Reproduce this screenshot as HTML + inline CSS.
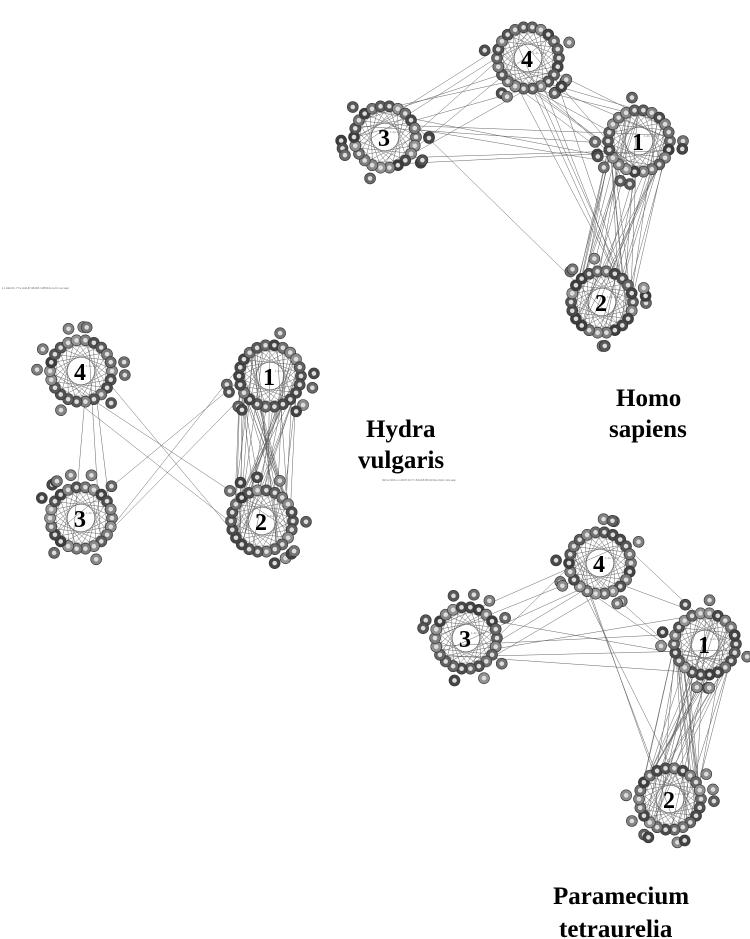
<!DOCTYPE html>
<html><head><meta charset="utf-8"><style>
body{margin:0;background:#fff;width:750px;height:939px;overflow:hidden}
svg{position:absolute;left:0;top:0}
.t{font-family:"Liberation Serif",serif;font-weight:bold;font-size:25px;fill:#000}
.n{font-family:"Liberation Serif",serif;font-weight:bold;font-size:24px;fill:#000}
.s{font-family:"Liberation Sans",sans-serif;font-size:3px;fill:#777}
</style></head><body>
<svg id="g" width="750" height="939" viewBox="0 0 750 939">
<g id="edges" stroke="#666" stroke-width="0.5" fill="none"></g>
<g id="nodes"></g>
<g id="labs"></g>
<text class="t" x="366" y="437">Hydra</text>
<text class="t" x="358" y="468">vulgaris</text>
<text class="t" x="616" y="406">Homo</text>
<text class="t" x="609" y="437">sapiens</text>
<text class="t" x="553" y="904">Paramecium</text>
<text class="t" x="559" y="937">tetraurelia</text>
<text class="s" x="2" y="289">k.l.EEAFx.77a.HsfHP.46d96.1086FAma.b1.sw.aap</text>
<text class="s" x="382" y="481">hkFa.NiDLx.ml4bP.4C77.A6dA8.BFHD3a.OHH.12a.aap</text>
</svg>
<script>
var seed=7;function r(){seed=(seed*9301+49297)%233280;return seed/233280;}
var C=[[385,137,"3"],[528,58,"4"],[639,141,"1"],[602,302,"2"],
[81,371,"4"],[270,376,"1"],[81,518,"3"],[262,521,"2"],
[600,563,"4"],[466,638,"3"],[705,644,"1"],[670,799,"2"]];
var E=[[0,1,8],[0,2,6],[1,2,10],[2,3,30],[1,3,5],[0,3,1],
[4,7,3],[4,6,3],[5,6,3],[5,7,40],
[8,9,6],[9,10,5],[8,10,4],[10,11,35],[8,11,3]];
var NS="http://www.w3.org/2000/svg";
function el(n,a,p){var e=document.createElementNS(NS,n);for(var k in a)e.setAttribute(k,a[k]);document.getElementById(p).appendChild(e);return e;}
E.forEach(function(e){var a=C[e[0]],b=C[e[1]];for(var i=0;i<e[2];i++){var t1=r()*6.28,t2=r()*6.28;
el("line",{x1:a[0]+30*Math.cos(t1),y1:a[1]+30*Math.sin(t1),x2:b[0]+30*Math.cos(t2),y2:b[1]+30*Math.sin(t2)},"edges");}});
C.forEach(function(c){
 el("circle",{cx:c[0],cy:c[1],r:25,stroke:"#999","stroke-width":"0.6",fill:"none"},"edges");
 for(var i=0;i<22;i++){var t=i/22*6.28;var t2=t+2.2;el("line",{x1:c[0]+30*Math.cos(t),y1:c[1]+30*Math.sin(t),x2:c[0]+30*Math.cos(t2),y2:c[1]+30*Math.sin(t2)},"edges");}
 var pts=[];for(var i=0;i<22;i++){var t=i/22*6.28;pts.push([c[0]+31*Math.cos(t),c[1]+31*Math.sin(t)]);}
 for(var i=0;i<9;i++){var t=r()*6.28;pts.push([c[0]+44*Math.cos(t),c[1]+44*Math.sin(t)]);}
 pts.forEach(function(p){var g=Math.floor(60+r()*90);var col="rgb("+g+","+g+","+g+")";
  el("circle",{cx:p[0],cy:p[1],r:5.5,fill:col,stroke:"#333","stroke-width":"0.6"},"nodes");
  el("circle",{cx:p[0],cy:p[1],r:2.3,fill:"#ddd"},"nodes");});
 var t=el("text",{x:c[0]-7,y:c[1]+9,"class":"n"},"labs");t.textContent=c[2];
 var s=el("text",{x:c[0]+5,y:c[1]-4,"class":"s"},"labs");s.textContent="1.41 - 171";
});
</script>
</body></html>
